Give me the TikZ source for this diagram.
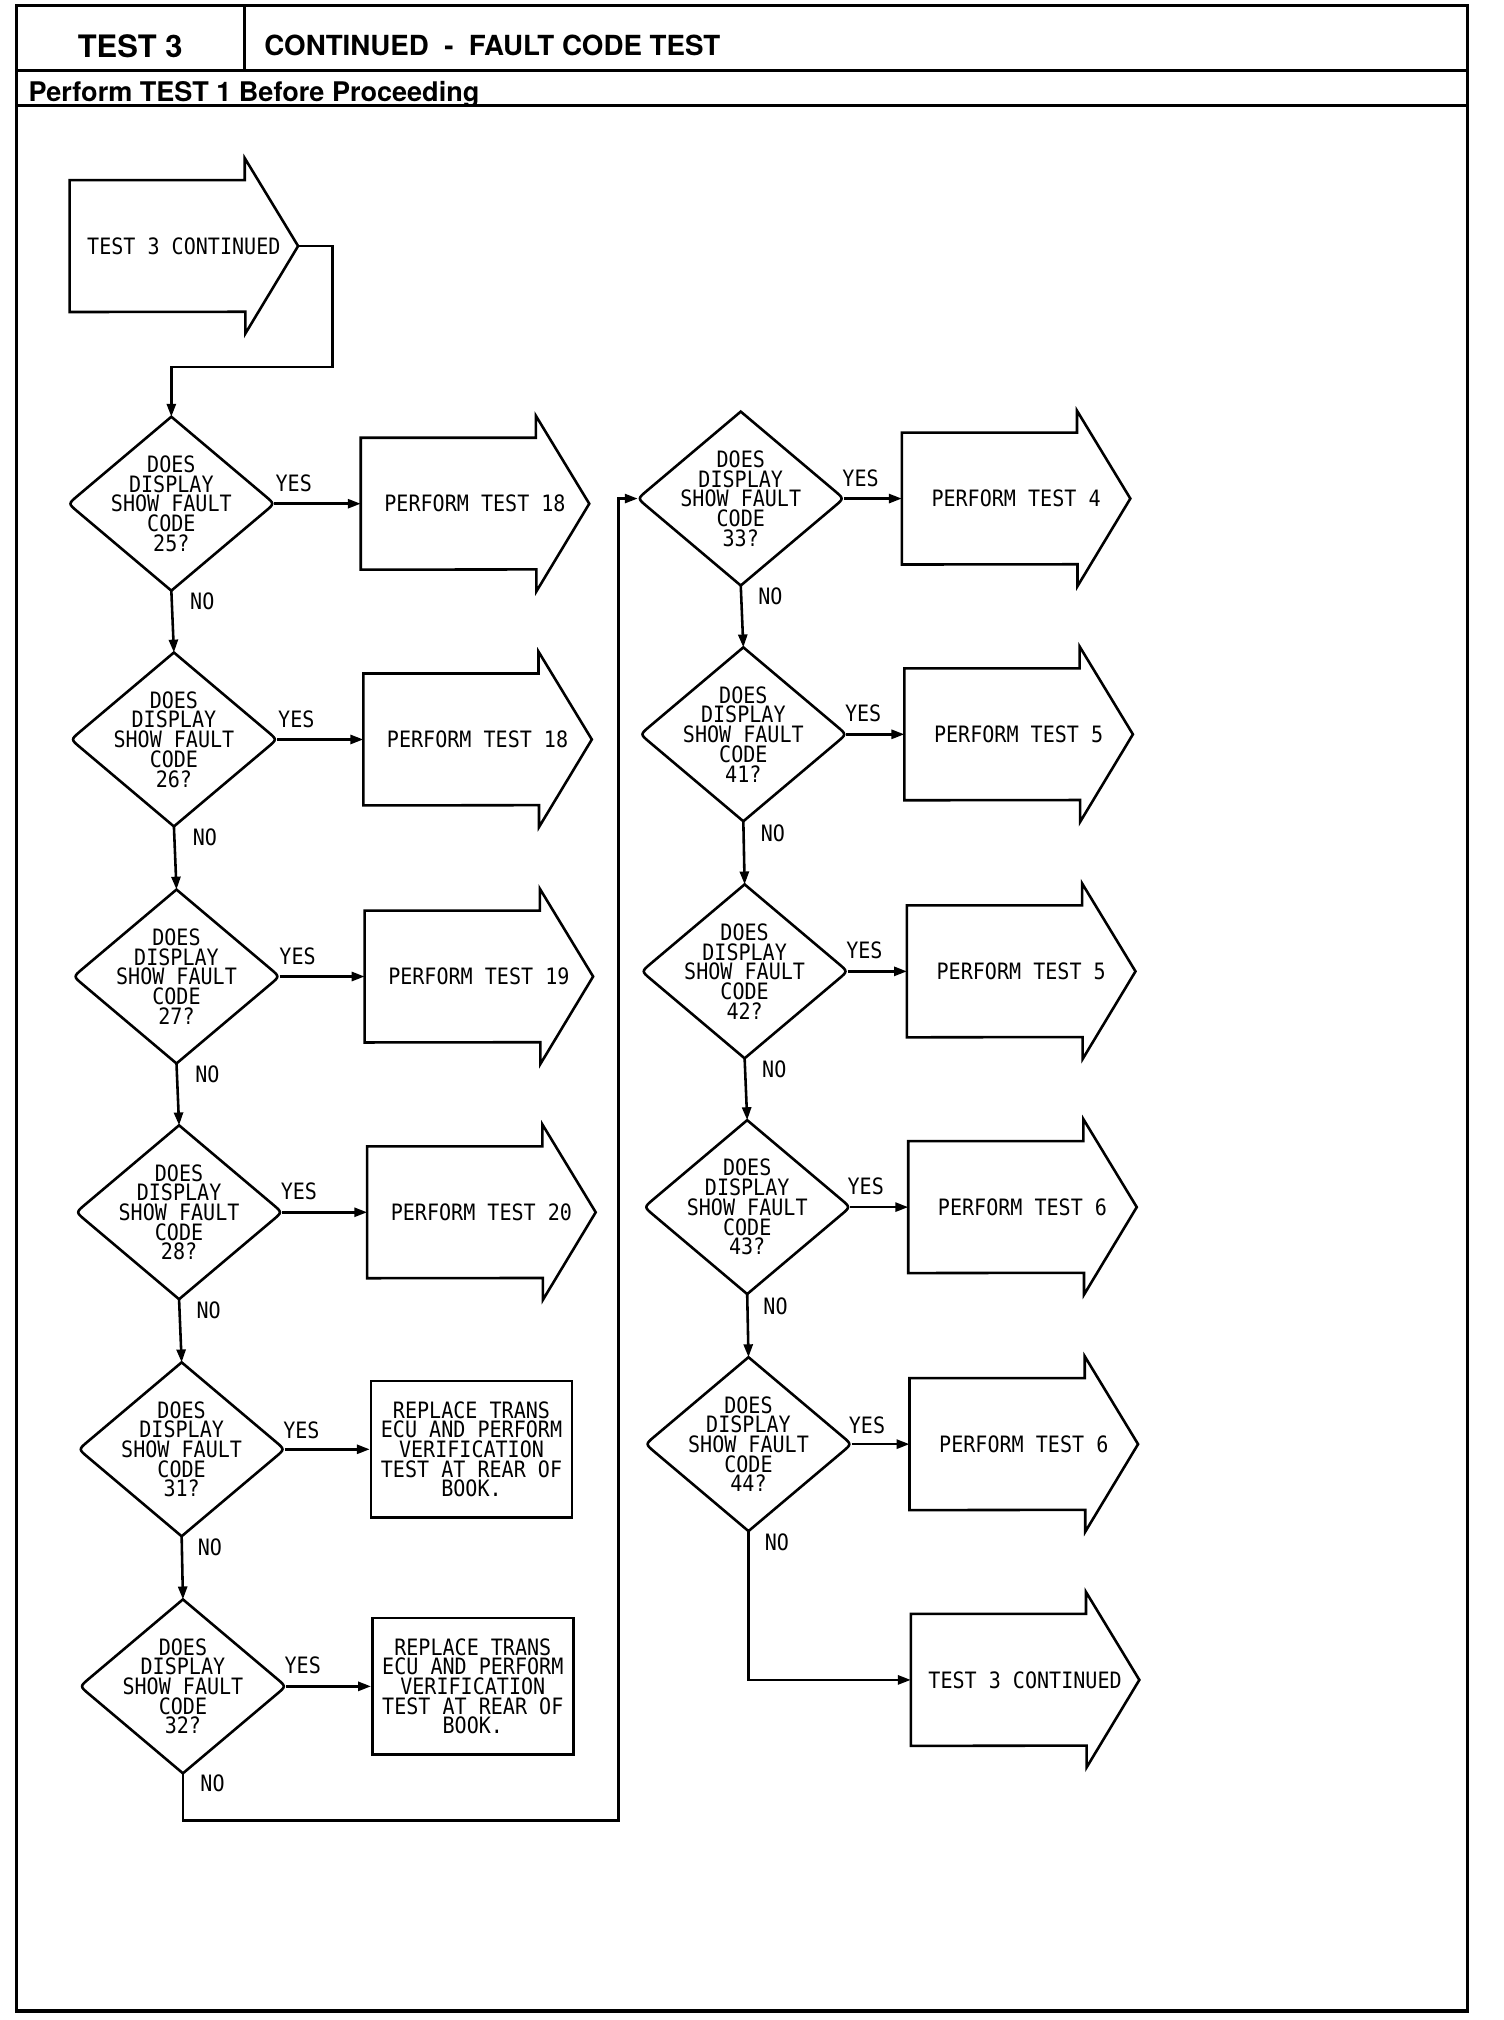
\documentclass[tikz,border=0pt]{standalone}
\usepackage{fontspec}
\setmainfont{Liberation Sans}
\newfontfamily\plotfont[FakeStretch=0.89]{DejaVu Sans Mono}
\newfontfamily\headfont{TeX Gyre Heros}
\usetikzlibrary{shapes.geometric,arrows.meta,calc}
\newcommand\blockarr[4]{%
  \node[barr] (#1) at (#2,#3) {#4};
  \draw[ln] (#1.north west) -- ++(136,0) -- ++(0,-17) -- (#1.east) -- ++(-41,68) -- ++(0,-17) -- (#1.south west) -- cycle;
}
\newcommand\question[4]{% name, x, y, code
  \node[dia] (#1) at (#2,#3) {};
  \draw[ln] (#1.north) -- ($(#1.east)!9pt!(#1.north)$) .. controls (#1.east) .. ($(#1.east)!9pt!(#1.south)$)
     -- (#1.south) -- ($(#1.west)!9pt!(#1.south)$) .. controls (#1.west) .. ($(#1.west)!9pt!(#1.north)$) -- cycle;
  \node[dtext] (#1t) at (#1.center) {DOES\\DISPLAY\\SHOW FAULT\\CODE\\#4?};
}
\begin{document}
\begin{tikzpicture}[x=1pt,y=-1pt,
  ln/.style={line width=2pt, line join=miter},
  arr/.style={ln, -{Triangle[length=10pt,width=7pt]}},
  dia/.style={diamond, minimum width=160pt, minimum height=135pt, inner sep=0pt, outer sep=0pt},
  ptext/.style={font=\plotfont\fontsize{17.5}{15.3}\selectfont},
  dtext/.style={ptext, align=center, inner sep=0pt},
  barr/.style={ptext, anchor=west, minimum width=177pt, minimum height=102pt, inner sep=0pt},
  rbox/.style={ptext, draw, line width=2pt, minimum width=156pt, minimum height=106pt, inner sep=0pt, align=center},
  lbl/.style={ptext, inner sep=0pt},
  head/.style={font=\headfont\bfseries, inner sep=0pt}
]
\useasboundingbox (0,0) rectangle (1167,1568);
% frame and header
\draw[line width=2.5pt] (13,4) rectangle (1139,1561);
\draw[line width=2.2pt] (13,55) -- (1139,55);
\draw[line width=2.2pt] (13,82) -- (1139,82);
\draw[line width=2pt] (190,4) -- (190,55);
\node[head, font=\headfont\bfseries\fontsize{24}{28}\selectfont] (h1) at (101,36) {TEST 3};
\node[head, anchor=west, font=\headfont\bfseries\fontsize{21.5}{26}\selectfont] (h2) at (205,35) {CONTINUED\ \ -\ \ FAULT CODE TEST};
\node[head, anchor=west, font=\headfont\bfseries\fontsize{21}{26}\selectfont] (h3) at (22,73) {Perform TEST 1 Before Proceeding};

% start arrow
\blockarr{s}{54}{191}{TEST 3 CONTINUED}

% left column
\question{d1}{133}{391}{25}
\question{d2}{135}{574}{26}
\question{d3}{137}{758}{27}
\question{d4}{139}{941}{28}
\question{d5}{141}{1125}{31}
\question{d6}{142}{1309}{32}

\blockarr{b1}{280}{391}{PERFORM TEST 18}
\blockarr{b2}{282}{574}{PERFORM TEST 18}
\blockarr{b3}{283}{758}{PERFORM TEST 19}
\blockarr{b4}{285}{941}{PERFORM TEST 20}
\node[rbox] (b5) at (366,1125) {REPLACE TRANS\\ECU AND PERFORM\\VERIFICATION\\TEST AT REAR OF\\BOOK.};
\node[rbox] (b6) at (367,1309) {REPLACE TRANS\\ECU AND PERFORM\\VERIFICATION\\TEST AT REAR OF\\BOOK.};

% right column
\question{d7}{575}{387}{33}
\question{d8}{577}{570}{41}
\question{d9}{578}{754}{42}
\question{d10}{580}{937}{43}
\question{d11}{581}{1121}{44}

\blockarr{b7}{700}{387}{PERFORM TEST 4}
\blockarr{b8}{702}{570}{PERFORM TEST 5}
\blockarr{b9}{704}{754}{PERFORM TEST 5}
\blockarr{b10}{705}{937}{PERFORM TEST 6}
\blockarr{b11}{706}{1121}{PERFORM TEST 6}
\blockarr{b12}{707}{1304}{TEST 3 CONTINUED}

% connectors
\coordinate (j0) at (258,285);
\draw[arr] (s.east) -| (j0) -| (d1.north);
\foreach \a/\b in {d1/d2,d2/d3,d3/d4,d4/d5,d5/d6,d7/d8,d8/d9,d9/d10,d10/d11}
  \draw[arr] (\a.south) -- (\b.north);
\foreach \a/\b in {d1/b1,d2/b2,d3/b3,d4/b4,d5/b5,d6/b6,d7/b7,d8/b8,d9/b9,d10/b10,d11/b11}
  \draw[arr] (\a.east) -- (\b.west);
\coordinate (j1) at (480,1413);
\draw[arr] (d6.south) |- (j1) |- (d7.west);
\draw[arr] (d11.south) |- (b12.west);

% labels
\node[lbl] (y1) at (228,375) {YES};
\node[lbl] (y2) at (230,558) {YES};
\node[lbl] (y3) at (231,742) {YES};
\node[lbl] (y4) at (232,925) {YES};
\node[lbl] (y5) at (234,1110) {YES};
\node[lbl] (y6) at (235,1293) {YES};
\node[lbl] (y7) at (668,371) {YES};
\node[lbl] (y8) at (670,554) {YES};
\node[lbl] (y9) at (671,738) {YES};
\node[lbl] (y10) at (672,921) {YES};
\node[lbl] (y11) at (673,1106) {YES};
\node[lbl] (n1) at (157,467) {NO};
\node[lbl] (n2) at (159,650) {NO};
\node[lbl] (n3) at (161,834) {NO};
\node[lbl] (n4) at (162,1017) {NO};
\node[lbl] (n5) at (163,1201) {NO};
\node[lbl] (n6) at (165,1384) {NO};
\node[lbl] (n7) at (598,463) {NO};
\node[lbl] (n8) at (600,647) {NO};
\node[lbl] (n9) at (601,830) {NO};
\node[lbl] (n10) at (602,1014) {NO};
\node[lbl] (n11) at (603,1197) {NO};
\end{tikzpicture}
\end{document}
